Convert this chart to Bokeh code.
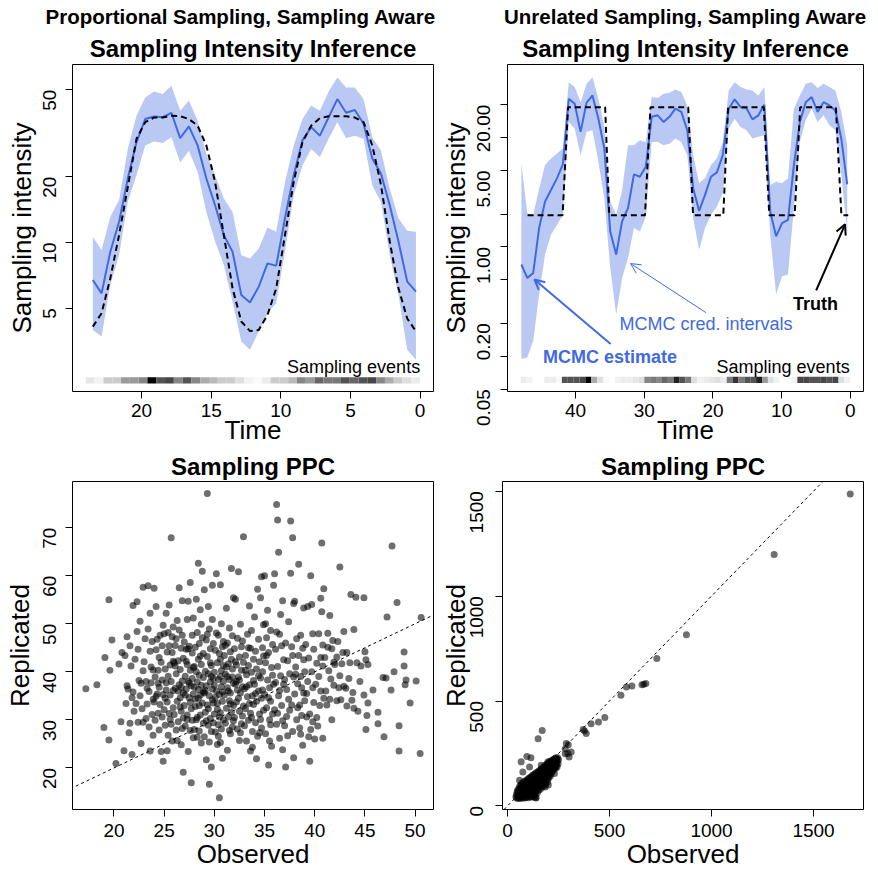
import math
import numpy as np
from bokeh.plotting import figure
from bokeh.layouts import column, row
from bokeh.models import Range1d, FixedTicker, Title, Arrow, OpenHead, Label, Slope
from bokeh.embed import file_html
from bokeh.resources import INLINE

FONT = "Liberation Sans"
BLUE = "#4169E1"

# ---------------- top-left: proportional sampling ----------------
tl_time = np.linspace(23.5, 0.3, 38)
tl_med = [6.73, 5.85, 9.07, 12.4, 19.6, 28.8, 36.7, 37.7, 37.4, 39.2, 30.0, 34.0, 27.8, 19.6, 14.8, 10.8, 9.07, 5.75, 5.31,
          6.28, 8.02, 7.83, 12.9, 20.3, 29.3, 33.7, 30.8, 37.4, 45.3, 39.2, 40.4, 34.9, 24.2, 20.6, 14.8, 10.1, 6.62, 5.96]
tl_hi = [10.6, 9.23, 13.1, 15.6, 26.8, 38.0, 46.1, 49.0, 47.8, 52.1, 40.1, 44.6, 36.1, 25.4, 20.3, 15.9, 13.8, 8.75, 8.45,
         9.39, 11.7, 11.2, 18.9, 27.8, 36.7, 42.3, 40.1, 49.0, 56.9, 51.2, 51.2, 45.3, 30.3, 26.3, 17.6, 12.9, 11.3, 11.2]
tl_lo = [3.98, 3.71, 6.38, 8.75, 15.3, 20.3, 27.8, 29.0, 28.5, 30.3, 23.2, 26.3, 21.0, 13.8, 10.1, 7.89, 5.36, 3.52, 3.23,
         3.91, 4.74, 5.27, 9.07, 16.4, 22.5, 26.8, 24.6, 29.8, 35.5, 30.0, 30.8, 29.8, 18.2, 15.3, 8.75, 5.75, 3.23, 2.91]
tl_truth = [4.12, 4.74, 6.85, 10.8, 17.9, 29.8, 35.5, 37.3, 37.3, 38.0, 37.8, 36.7, 34.2, 27.8, 18.9, 10.8, 6.17, 4.35, 3.93,
            3.98, 4.66, 6.17, 10.8, 18.9, 28.8, 34.2, 37.0, 37.8, 37.8, 37.8, 37.3, 35.5, 27.8, 18.3, 10.1, 6.17, 4.49, 3.92]
tl_events = [4, 2, 8, 8, 16, 16, 19, 40, 27, 29, 19, 27, 19, 13, 11, 8, 8, 5, 2, 1, 3, 8, 8, 11, 19, 16, 24, 21, 21, 27,
             24, 27, 29, 19, 13, 8, 5, 3]
tl_xticks = [0, 5, 10, 15, 20]
tl_yticks = [5, 10, 20, 50]
tl_ylabels = ["5", "10", "20", "50"]

# ---------------- top-right: unrelated sampling ----------------
tr_time = np.linspace(47.9, 0.45, 56)
tr_med = [0.69, 0.52, 0.578, 1.49, 2.60, 3.32, 4.24, 5.68, 22.7, 20.4, 11.3, 20.9, 24.3, 14.9, 7.96, 1.38, 0.85, 1.71,
          2.26, 4.61, 4.39, 5.41, 15.5, 16.0, 13.9, 15.5, 18.4, 17.2, 11.7, 3.43, 2.14, 2.99, 4.39, 4.81, 6.91, 18.4,
          22.4, 19.0, 18.6, 14.7, 16.0, 20.0, 2.11, 1.25, 1.65, 1.77, 5.61, 13.9, 21.1, 23.5, 17.2, 21.1, 19.7, 17.7,
          9.80, 3.73]
tr_hi = [5.80, 2.03, 1.96, 3.43, 5.61, 6.45, 7.16, 7.96, 32.1, 29.0, 21.1, 31.1, 35.7, 22.7, 12.5, 2.60, 1.96, 3.32,
         8.52, 8.52, 9.46, 9.1, 23.5, 23.0, 25.2, 25.7, 27.6, 26.1, 19.7, 6.91, 3.82, 4.24, 5.61, 6.45, 9.1, 27.0,
         32.1, 29.0, 27.6, 27.0, 24.3, 29.0, 3.68, 3.95, 3.82, 4.24, 18.4, 24.3, 31.1, 32.1, 28.4, 31.1, 29.0, 27.0,
         17.2, 8.52]
tr_lo = [0.094, 0.097, 0.138, 0.367, 0.85, 1.29, 1.59, 1.96, 13.9, 12.1, 6.91, 11.3, 11.7, 6.01, 2.79, 0.64, 0.24, 0.52,
         0.79, 1.49, 1.38, 1.90, 9.14, 9.14, 8.52, 8.8, 9.8, 9.14, 6.91, 1.83, 0.94, 1.49, 1.96, 2.34, 3.10, 12.1,
         14.9, 12.5, 11.7, 9.8, 10.2, 10.5, 1.29, 0.367, 0.54, 0.56, 2.26, 9.14, 14.4, 18.4, 13.9, 16.0, 13.0, 11.7,
         4.54, 1.38]
tr_truth_t = [47.0, 41.9, 41.1, 35.7, 35.1, 29.9, 29.1, 23.6, 22.9, 18.5, 17.8, 12.6, 11.8, 8.1, 7.3, 2.1, 1.3, 0.3]
tr_truth_v = [1.95, 1.95, 19, 19, 1.95, 1.95, 19, 19, 1.95, 1.95, 19, 19, 1.95, 1.95, 19, 19, 1.95, 1.95]
tr_events = [3, 2, 0, 0, 3, 3, 1, 27, 27, 27, 29, 40, 13, 5, 1, 0, 2, 3, 3, 4, 5, 19, 21, 19, 24, 21, 35, 27, 21, 5,
             2, 3, 4, 5, 3, 21, 32, 21, 27, 27, 35, 16, 5, 2, 0, 0, 2, 29, 29, 27, 27, 29, 27, 29, 5, 2]
tr_xticks = [0, 10, 20, 30, 40]
tr_yticks = [0.05, 0.1, 0.2, 0.5, 1, 2, 5, 10, 20]
tr_ylabels = ["0.05", "", "0.20", "", "1.00", "", "5.00", "", "20.00"]

# ---------------- bottom-left: sampling PPC (observed, replicated) ----------------
bl_points = [
    (17.2, 36.5), (18.3, 37.3), (19.1, 43.0), (19.0, 28.4), (19.5, 25.8), (19.6, 40.3), (19.5, 55.0), (19.8, 46.6),
    (20.2, 20.9), (20.5, 41.6), (20.7, 29.6), (20.8, 44.0), (21.0, 23.6), (21.1, 43.4), (21.3, 37.1), (21.3, 47.3),
    (21.4, 36.4), (21.5, 27.3), (21.6, 29.3), (21.7, 41.2), (21.8, 34.6), (21.8, 22.8), (21.9, 35.8), (21.9, 53.8),
    (21.6, 45.4), (21.2, 33.4),
    (22.0, 31.8), (22.1, 42.6), (22.2, 33.4), (22.3, 48.4), (22.3, 54.6), (22.4, 29.5), (22.5, 38.2), (22.6, 50.5),
    (22.7, 25.1), (22.7, 37.6), (22.8, 32.3), (22.9, 29.5), (22.9, 40.2), (22.4, 44.7), (22.6, 35.0), (22.9, 57.6),
    (23.0, 42.1), (23.1, 46.9), (23.2, 38.0), (23.2, 30.3), (23.3, 33.3), (23.4, 57.9), (23.4, 48.9), (23.5, 35.9),
    (23.5, 28.5), (23.6, 23.5), (23.6, 44.3), (23.7, 41.0), (23.7, 37.7), (23.8, 31.1), (23.8, 46.3), (23.9, 26.8),
    (23.9, 40.4), (23.3, 36.6), (23.6, 52.2), (23.9, 34.3),
    (24.0, 57.4), (24.0, 33.7), (24.1, 38.9), (24.1, 29.9), (24.2, 44.6), (24.2, 53.6), (24.3, 35.4), (24.3, 46.8),
    (24.4, 31.4), (24.4, 40.3), (24.5, 27.9), (24.5, 36.8), (24.6, 47.6), (24.6, 33.2), (24.7, 42.0), (24.7, 23.4),
    (24.8, 38.3), (24.8, 30.6), (24.9, 49.7), (24.9, 35.3), (24.9, 21.4), (24.2, 34.9), (24.5, 43.0), (24.8, 45.4),
    (24.4, 37.6),
    (25.0, 32.1), (25.0, 47.9), (25.1, 40.6), (25.1, 28.9), (25.2, 52.2), (25.2, 36.2), (25.3, 44.1), (25.3, 23.6),
    (25.3, 33.7), (25.4, 48.2), (25.4, 39.1), (25.5, 31.3), (25.5, 45.4), (25.5, 53.9), (25.6, 35.2), (25.6, 41.4),
    (25.7, 67.9), (25.7, 29.1), (25.7, 38.0), (25.8, 44.0), (25.8, 47.3), (25.8, 25.6), (25.9, 36.1), (25.9, 32.5),
    (25.9, 42.2), (25.2, 37.7), (25.6, 30.1), (25.4, 26.8), (25.1, 34.5), (25.9, 49.3),
    (26.0, 41.9), (26.0, 31.1), (26.1, 36.6), (26.1, 45.5), (26.2, 27.9), (26.2, 39.6), (26.3, 33.9), (26.3, 50.7),
    (26.4, 42.3), (26.4, 29.6), (26.5, 37.3), (26.5, 57.5), (26.5, 48.7), (26.6, 34.6), (26.6, 40.5), (26.7, 44.9),
    (26.7, 24.8), (26.7, 31.8), (26.8, 54.8), (26.8, 38.1), (26.8, 28.2), (26.9, 42.8), (26.9, 35.6), (26.9, 19.1),
    (26.2, 46.9), (26.4, 36.0), (26.6, 32.7), (26.8, 47.6), (26.3, 25.7), (26.9, 30.4), (26.1, 41.2), (26.7, 36.8),
    (27.0, 46.2), (27.0, 33.0), (27.1, 39.1), (27.1, 28.7), (27.2, 44.7), (27.2, 36.4), (27.3, 50.9), (27.3, 31.0),
    (27.3, 41.5), (27.4, 54.7), (27.4, 38.0), (27.4, 23.4), (27.5, 34.6), (27.5, 45.3), (27.6, 27.8), (27.6, 40.3),
    (27.6, 58.6), (27.7, 32.3), (27.7, 37.1), (27.7, 16.9), (27.8, 43.9), (27.8, 29.9), (27.8, 47.6), (27.9, 35.4),
    (27.9, 40.9), (27.9, 26.3), (27.2, 42.2), (27.5, 37.6), (27.1, 35.2), (27.6, 33.6), (27.9, 51.2), (27.3, 30.1),
    (27.8, 38.6), (27.4, 44.8),
    (28.0, 36.8), (28.0, 28.0), (28.1, 45.1), (28.1, 32.8), (28.2, 40.0), (28.2, 55.1), (28.3, 37.9), (28.3, 30.5),
    (28.3, 48.2), (28.4, 34.5), (28.4, 42.6), (28.4, 62.6), (28.5, 27.7), (28.5, 39.3), (28.5, 45.9), (28.6, 35.1),
    (28.6, 31.0), (28.6, 52.9), (28.7, 41.5), (28.7, 25.2), (28.7, 37.2), (28.8, 47.1), (28.8, 33.5), (28.8, 60.9),
    (28.9, 43.8), (28.9, 29.3), (28.9, 38.8), (28.1, 34.3), (28.4, 36.3), (28.6, 43.3), (28.2, 30.0), (28.9, 35.8),
    (28.3, 26.4), (28.7, 49.9), (28.5, 33.0), (28.0, 41.1),
    (29.0, 57.1), (29.0, 35.6), (29.0, 26.5), (29.1, 40.1), (29.1, 31.6), (29.2, 46.6), (29.2, 37.1), (29.2, 21.7),
    (29.3, 77.1), (29.3, 33.1), (29.3, 43.2), (29.4, 28.9), (29.4, 53.6), (29.4, 39.6), (29.5, 35.0), (29.5, 48.9),
    (29.5, 16.6), (29.6, 30.3), (29.6, 44.8), (29.6, 37.9), (29.7, 27.6), (29.7, 41.3), (29.7, 20.2), (29.8, 34.2),
    (29.8, 50.9), (29.8, 58.0), (29.9, 29.4), (29.9, 38.6), (29.9, 45.9), (29.1, 36.1), (29.4, 32.3), (29.6, 41.9),
    (29.8, 36.4), (29.2, 29.8), (29.5, 25.4), (29.9, 33.5), (29.3, 47.8), (29.7, 39.0),
    (30.0, 39.9), (30.0, 31.2), (30.1, 44.5), (30.1, 27.5), (30.2, 36.0), (30.2, 60.4), (30.3, 41.9), (30.3, 33.4),
    (30.3, 24.9), (30.4, 47.6), (30.4, 38.4), (30.4, 29.0), (30.5, 13.8), (30.5, 35.3), (30.5, 43.8), (30.6, 31.5),
    (30.6, 58.1), (30.6, 39.0), (30.7, 50.0), (30.7, 28.1), (30.7, 36.9), (30.8, 45.2), (30.8, 33.9), (30.8, 22.0),
    (30.9, 41.3), (30.9, 30.0), (30.9, 38.0), (30.1, 34.7), (30.2, 48.1), (30.4, 26.6), (30.6, 42.6), (30.8, 35.8),
    (30.3, 32.2), (30.7, 40.2), (30.5, 30.6), (30.9, 46.3), (30.0, 37.2), (30.6, 25.3),
    (31.0, 35.2), (31.0, 43.4), (31.1, 29.3), (31.1, 39.5), (31.2, 53.2), (31.2, 32.4), (31.3, 46.0), (31.3, 36.7),
    (31.3, 23.7), (31.4, 41.7), (31.4, 30.6), (31.5, 34.0), (31.5, 49.1), (31.5, 38.4), (31.6, 27.1), (31.6, 44.2),
    (31.6, 35.6), (31.7, 61.5), (31.7, 31.6), (31.8, 40.6), (31.8, 47.5), (31.8, 28.5), (31.9, 37.6), (31.9, 33.0),
    (31.9, 55.4), (31.2, 41.0), (31.4, 36.0), (31.6, 33.3), (31.8, 38.9), (31.1, 45.5), (31.5, 27.8), (31.7, 42.6),
    (31.9, 29.8), (31.3, 39.0),
    (32.0, 44.8), (32.0, 30.5), (32.1, 37.4), (32.1, 55.1), (32.2, 33.7), (32.2, 41.4), (32.3, 28.1), (32.3, 47.0),
    (32.4, 38.9), (32.4, 60.8), (32.5, 31.8), (32.5, 25.7), (32.5, 43.1), (32.6, 35.6), (32.6, 49.9), (32.7, 40.3),
    (32.7, 29.2), (32.8, 36.9), (32.8, 46.4), (32.9, 32.9), (32.9, 42.0), (32.9, 68.1), (32.2, 38.0), (32.4, 34.5),
    (32.6, 27.3), (32.8, 30.8), (32.1, 42.1), (32.3, 36.2), (32.7, 45.2), (32.5, 38.3),
    (33.0, 36.5), (33.0, 28.8), (33.1, 43.4), (33.1, 32.3), (33.2, 39.4), (33.2, 25.6), (33.3, 47.8), (33.3, 34.8),
    (33.4, 41.3), (33.4, 29.9), (33.5, 53.7), (33.5, 37.3), (33.6, 44.9), (33.6, 23.5), (33.6, 31.4), (33.7, 39.9),
    (33.7, 48.6), (33.8, 35.0), (33.8, 27.6), (33.9, 42.6), (33.9, 33.2), (33.2, 36.9), (33.4, 45.0), (33.7, 30.5),
    (33.9, 38.2), (33.1, 40.3), (33.5, 33.4), (33.8, 24.3),
    (34.0, 37.4), (34.0, 51.4), (34.1, 29.4), (34.1, 44.3), (34.2, 33.9), (34.2, 40.6), (34.3, 57.2), (34.3, 26.6),
    (34.4, 36.0), (34.4, 46.8), (34.5, 31.2), (34.5, 42.1), (34.6, 38.7), (34.6, 55.4), (34.7, 28.3), (34.7, 59.8),
    (34.7, 34.5), (34.8, 45.0), (34.8, 40.0), (34.9, 32.0), (34.9, 49.8), (34.2, 21.9), (34.4, 39.2), (34.6, 30.1),
    (34.8, 36.2), (34.1, 35.5), (34.5, 27.3), (34.9, 43.3),
    (35.0, 60.0), (35.0, 35.3), (35.1, 41.9), (35.1, 27.1), (35.2, 47.1), (35.2, 32.5), (35.3, 38.3), (35.3, 52.8),
    (35.4, 20.6), (35.4, 44.0), (35.5, 30.0), (35.5, 36.7), (35.6, 48.6), (35.6, 33.9), (35.7, 24.5), (35.7, 40.9),
    (35.8, 45.7), (35.8, 31.2), (35.9, 58.0), (35.9, 37.4), (35.2, 43.4), (35.4, 34.6), (35.6, 29.0), (35.8, 39.3),
    (35.1, 50.0), (35.5, 25.6),
    (36.0, 60.4), (36.0, 32.1), (36.1, 44.7), (36.1, 37.8), (36.2, 74.8), (36.2, 29.1), (36.3, 71.6), (36.3, 41.1),
    (36.4, 64.9), (36.4, 35.0), (36.5, 47.8), (36.5, 26.2), (36.6, 39.2), (36.6, 51.9), (36.7, 33.0), (36.7, 45.4),
    (36.8, 54.8), (36.8, 29.8), (36.9, 37.4), (36.9, 42.5), (36.2, 48.3), (36.5, 36.1), (36.8, 23.8), (36.3, 31.4),
    (37.0, 38.4), (37.1, 20.2), (37.1, 46.0), (37.2, 30.7), (37.3, 42.3), (37.3, 26.7), (37.4, 50.4), (37.4, 34.3),
    (37.5, 39.6), (37.6, 60.5), (37.6, 71.4), (37.7, 33.1), (37.7, 45.2), (37.8, 67.9), (37.8, 27.6), (37.9, 54.2),
    (37.9, 22.1), (37.9, 38.9), (37.2, 36.3), (37.5, 32.0), (37.8, 43.4), (37.0, 28.8),
    (38.0, 54.7), (38.0, 35.4), (38.1, 41.0), (38.2, 30.0), (38.2, 46.9), (38.3, 37.5), (38.4, 62.4), (38.4, 43.4),
    (38.5, 28.3), (38.5, 33.1), (38.6, 47.6), (38.6, 39.0), (38.7, 36.7), (38.7, 30.9), (38.8, 44.9), (38.8, 24.7),
    (38.9, 42.5), (38.9, 53.3), (38.3, 32.5), (38.6, 27.0), (38.9, 35.6), (38.1, 39.5),
    (39.0, 40.0), (39.0, 34.0), (39.1, 45.7), (39.2, 30.6), (39.3, 53.6), (39.3, 38.0), (39.4, 42.9), (39.5, 21.4),
    (39.5, 31.2), (39.6, 28.0), (39.6, 60.0), (39.7, 40.0), (39.7, 54.0), (39.8, 47.9), (39.8, 36.7), (39.9, 44.7),
    (39.9, 33.6), (39.2, 35.5), (39.4, 26.5), (39.8, 29.6),
    (40.0, 26.0), (40.1, 37.4), (40.2, 41.8), (40.3, 28.7), (40.4, 47.9), (40.5, 33.0), (40.6, 55.3), (40.6, 36.0),
    (40.7, 66.8), (40.7, 52.5), (40.8, 45.6), (40.8, 26.2), (40.9, 57.3), (40.9, 34.5), (40.4, 39.0), (40.8, 41.2),
    (40.2, 30.5), (40.6, 43.0),
    (41.0, 43.0), (41.1, 36.0), (41.2, 33.1), (41.3, 45.1), (41.4, 40.2), (41.5, 51.7), (41.5, 34.3), (41.6, 38.5),
    (41.7, 44.8), (41.8, 46.5), (41.9, 37.2), (41.7, 30.0), (41.3, 48.0), (41.9, 42.0),
    (42.0, 41.5), (42.2, 34.0), (42.3, 46.3), (42.5, 61.8), (42.5, 39.2), (42.6, 34.2), (42.7, 41.7), (42.8, 44.0),
    (42.9, 48.4), (42.4, 36.7), (42.9, 37.0), (42.2, 43.1),
    (43.1, 36.6), (43.2, 32.9), (43.4, 38.6), (43.6, 56.1), (43.8, 35.7), (43.9, 32.4), (43.9, 48.8), (43.5, 41.9),
    (43.7, 34.1), (43.2, 44.0),
    (44.1, 55.5), (44.2, 41.9), (44.3, 31.8), (44.6, 41.2), (44.9, 55.4), (44.9, 35.2), (45.0, 44.2), (45.1, 42.5),
    (45.2, 30.9), (45.3, 41.5), (45.3, 33.5), (45.1, 28.0), (45.8, 36.2), (44.5, 38.0),
    (46.3, 31.6), (46.3, 29.2), (46.9, 26.5), (47.1, 38.7), (47.2, 51.4), (46.8, 38.8), (47.6, 36.2), (47.7, 66.2),
    (47.9, 40.0), (48.2, 54.4), (48.4, 28.8), (48.4, 23.5), (48.9, 44.1), (48.9, 41.2), (49.0, 37.3), (49.1, 38.3),
    (49.5, 33.5), (50.1, 38.1), (50.5, 23.0), (50.6, 51.3),
]
bl_xticks = [20, 25, 30, 35, 40, 45, 50]
bl_yticks = [20, 30, 40, 50, 60, 70]

# ---------------- bottom-right: sampling PPC (observed, replicated) ----------------
br_points = [
    (41, 42), (44, 55), (46, 38), (47, 66), (49, 48), (50, 76), (52, 36), (53, 59), (54, 45), (55, 70), (56, 83),
    (57, 40), (58, 52), (59, 64), (60, 95), (61, 37), (62, 47), (63, 58), (64, 72), (65, 86), (66, 100), (67, 41),
    (68, 53), (69, 64), (70, 77), (70, 108), (72, 37), (73, 49), (74, 61), (75, 88), (76, 74), (77, 99), (78, 112),
    (79, 43), (80, 56), (81, 68), (82, 80), (83, 92), (84, 118), (85, 38), (86, 105), (87, 50), (88, 63), (89, 76),
    (90, 88), (91, 121), (92, 40), (93, 100), (94, 55), (95, 70), (96, 112), (97, 84), (98, 45), (99, 126), (100, 60),
    (101, 96), (102, 74), (103, 131), (104, 39), (105, 108), (106, 50), (107, 87), (108, 120), (109, 65), (110, 135),
    (111, 98), (112, 44), (113, 78), (114, 112), (115, 56), (116, 139), (117, 89), (118, 125), (119, 68), (120, 101),
    (121, 42), (122, 145), (123, 114), (124, 80), (125, 54), (126, 130), (127, 93), (128, 148), (129, 67), (130, 108),
    (131, 121), (132, 47), (133, 152), (134, 84), (135, 136), (136, 60), (137, 98), (138, 115), (139, 38), (140, 158),
    (141, 73), (142, 127), (143, 90), (144, 143), (145, 106), (146, 62), (147, 160), (148, 120), (149, 85), (150, 137),
    (151, 100), (152, 74), (153, 165), (154, 150), (155, 114), (156, 88), (157, 128), (158, 170), (159, 142),
    (160, 104), (161, 80), (162, 157), (163, 120), (164, 174), (165, 135), (166, 96), (167, 150), (168, 112),
    (169, 178), (170, 165), (171, 128), (172, 90), (173, 143), (174, 183), (175, 158), (176, 106), (177, 172),
    (178, 122), (179, 188), (180, 138), (181, 97), (182, 154), (183, 178), (184, 118), (185, 192), (186, 168),
    (187, 134), (188, 105), (189, 150), (190, 196), (191, 180), (192, 124), (193, 164), (194, 200), (195, 140),
    (196, 186), (197, 115), (198, 172), (199, 155), (200, 203), (201, 132), (202, 190), (203, 168), (204, 145),
    (205, 208), (206, 178), (207, 158), (208, 195), (209, 140), (210, 212), (211, 170), (212, 186), (213, 152),
    (214, 200), (215, 176), (216, 216), (217, 162), (218, 192), (219, 205), (220, 180), (221, 168), (222, 218),
    (223, 196), (224, 184), (225, 210), (226, 172), (227, 222), (228, 198), (229, 186), (230, 214), (231, 178),
    (232, 226), (233, 204), (234, 190), (236, 218), (237, 182), (238, 230), (239, 208), (240, 196), (242, 222),
    (243, 186), (244, 212), (246, 230), (248, 200), (250, 220),
    (59, 122), (67, 210), (75, 162), (95, 235), (108, 186), (115, 230), (132, 43), (150, 320), (165, 194), (170, 360),
    (198, 210), (230, 154), (185, 90), (200, 100), (140, 40),
    (283, 249), (288, 297), (296, 250), (302, 233), (312, 257), (283, 273), (298, 292), (371, 364), (386, 345),
    (378, 357), (410, 392), (446, 400), (477, 421), (556, 527), (583, 567), (610, 571), (659, 578), (668, 580),
    (678, 583), (732, 702), (877, 816), (1307, 1198), (1680, 1487),
]
br_xticks = [0, 500, 1000, 1500]
br_yticks = [0, 500, 1000, 1500]


def gray(c, cmax=40.0):
    g = int(round(255 * (1 - c / cmax)))
    return "#%02x%02x%02x" % (g, g, g)


def base_fig(w, h, xr, yr, ylog, bl, br, bt, bb, xstand, ystand, xlab_stand, ylab_stand, xlab, ylab):
    p = figure(width=w, height=h, x_range=xr, y_range=yr, y_axis_type="log" if ylog else "linear",
               output_backend="svg", toolbar_location=None, title=None,
               min_border_left=bl, min_border_right=br, min_border_top=bt, min_border_bottom=bb)
    p.grid.visible = False
    p.outline_line_color = "black"
    p.outline_line_alpha = 1.0
    p.outline_line_width = 1
    p.background_fill_color = "white"
    p.border_fill_color = "white"
    for ax in (p.xaxis[0], p.yaxis[0]):
        ax.axis_line_color = None
        ax.major_tick_in = 0
        ax.major_tick_out = 7
        ax.major_tick_line_color = "black"
        ax.minor_tick_line_color = None
        ax.major_label_text_font = FONT
        ax.major_label_text_font_size = "19px"
        ax.major_label_text_color = "black"
        ax.axis_label_text_font = FONT
        ax.axis_label_text_font_size = "26px"
        ax.axis_label_text_font_style = "normal"
        ax.axis_label_text_color = "black"
    p.xaxis.major_label_standoff = xstand
    p.yaxis.major_label_standoff = ystand
    p.xaxis.axis_label_standoff = xlab_stand
    p.yaxis.axis_label_standoff = ylab_stand
    p.yaxis.major_label_orientation = math.pi / 2
    p.xaxis.axis_label = xlab
    p.yaxis.axis_label = ylab
    return p


def add_titles(p, main, main_standoff, outer=None, outer_standoff=5, outer_align="center", outer_offset=0):
    p.add_layout(Title(text=main, align="center", text_font=FONT, text_font_size="24px",
                       text_font_style="bold", text_color="black", standoff=main_standoff), "above")
    if outer:
        p.add_layout(Title(text=outer, align=outer_align, offset=outer_offset, text_font=FONT,
                           text_font_size="20.5px", text_font_style="bold", text_color="black",
                           standoff=outer_standoff), "above")


def intensity_panel(p, t, lo, hi, med, truth_t, truth_v, events, t_span, strip_b, strip_t):
    p.varea(x=t, y1=lo, y2=hi, fill_color=BLUE, fill_alpha=0.36)
    p.line(x=t, y=med, line_color=BLUE, line_width=2)
    p.line(x=truth_t, y=truth_v, line_color="black", line_width=2, line_dash="6 4")
    n = len(events)
    w = t_span / n
    centers = [t_span - (i + 0.5) * w for i in range(n)]
    p.quad(left=[c - w / 2 for c in centers], right=[c + w / 2 for c in centers],
           bottom=strip_b, top=strip_t, fill_color=[gray(c) for c in events], line_color=None)


# ---------- top-left ----------
p1 = base_fig(437, 447, Range1d(24.96, -0.96), Range1d(2.08, 65.2), True, 72, 4, 62, 56,
              5, 16, -5, -3, "Time", "Sampling intensity")
intensity_panel(p1, tl_time, tl_lo, tl_hi, tl_med, tl_time, tl_truth, tl_events, 24.0, 2.262, 2.416)
p1.add_layout(Label(x=0.0, y=2.68, text="Sampling events", text_align="right", text_baseline="middle",
                    text_font=FONT, text_font_size="18px", text_color="black"))
p1.xaxis.ticker = FixedTicker(ticks=tl_xticks)
p1.yaxis.ticker = FixedTicker(ticks=tl_yticks)
p1.yaxis.major_label_overrides = dict(zip(tl_yticks, tl_ylabels))
add_titles(p1, "Sampling Intensity Inference", 5, outer="Proportional Sampling, Sampling Aware",
           outer_standoff=5, outer_align="left", outer_offset=-27)

# ---------- top-right ----------
p2 = base_fig(440, 447, Range1d(49.92, -1.92), Range1d(0.0475, 46.7), True, 64, 14, 62, 56,
              5, 17, -5, -3, "Time", "Sampling intensity")
intensity_panel(p2, tr_time, tr_lo, tr_hi, tr_med, tr_truth_t, tr_truth_v, tr_events, 48.0, 0.0568, 0.0649)
p2.add_layout(Label(x=0.1, y=0.080, text="Sampling events", text_align="right", text_baseline="middle",
                    text_font=FONT, text_font_size="18px", text_color="black"))
p2.add_layout(Label(x=35.0, y=0.0986, text="MCMC estimate", text_align="center", text_baseline="middle",
                    text_font=FONT, text_font_size="18px", text_font_style="bold", text_color=BLUE))
p2.add_layout(Label(x=21.0, y=0.198, text="MCMC cred. intervals", text_align="center", text_baseline="middle",
                    text_font=FONT, text_font_size="18px", text_color=BLUE))
p2.add_layout(Label(x=5.07, y=0.298, text="Truth", text_align="center", text_baseline="middle",
                    text_font=FONT, text_font_size="18px", text_font_style="bold", text_color="black"))
p2.add_layout(Arrow(end=OpenHead(size=10, line_color=BLUE, line_width=2), x_start=34.9, y_start=0.129,
                    x_end=46.0, y_end=0.503, line_color=BLUE, line_width=2))
p2.add_layout(Arrow(end=OpenHead(size=10, line_color=BLUE, line_width=1), x_start=21.0, y_start=0.25,
                    x_end=32.0, y_end=0.704, line_color=BLUE, line_width=1))
p2.add_layout(Arrow(end=OpenHead(size=10, line_color="black", line_width=2), x_start=4.97, y_start=0.40,
                    x_end=0.76, y_end=1.61, line_color="black", line_width=2))
p2.xaxis.ticker = FixedTicker(ticks=tr_xticks)
p2.yaxis.ticker = FixedTicker(ticks=tr_yticks)
p2.yaxis.major_label_overrides = dict(zip(tr_yticks, tr_ylabels))
add_titles(p2, "Sampling Intensity Inference", 5, outer="Unrelated Sampling, Sampling Aware", outer_standoff=5)


def ppc_panel(p, pts):
    xs = [a for a, b in pts]
    ys = [b for a, b in pts]
    p.scatter(x=xs, y=ys, marker="circle", size=7, fill_color="black", fill_alpha=0.57, line_color=None)
    p.add_layout(Slope(gradient=1, y_intercept=0, line_color="black", line_width=1, line_dash="3 3"))
    add_titles(p, "Sampling PPC", 3)


# ---------- bottom-left ----------
p3 = base_fig(437, 425, Range1d(15.87, 51.83), Range1d(11.35, 79.6), False, 72, 4, 34, 63,
              7, 16, -1, -1, "Observed", "Replicated")
ppc_panel(p3, bl_points)
p3.xaxis.ticker = FixedTicker(ticks=bl_xticks)
p3.yaxis.ticker = FixedTicker(ticks=bl_yticks)

# ---------- bottom-right ----------
p4 = base_fig(440, 425, Range1d(-24.5, 1745), Range1d(-17, 1546), False, 64, 14, 34, 63,
              7, 19, -1, -10, "Observed", "Replicated")
ppc_panel(p4, br_points)
p4.xaxis.ticker = FixedTicker(ticks=br_xticks)
p4.yaxis.ticker = FixedTicker(ticks=br_yticks)

layout = column(row(p1, p2), row(p3, p4))
open("out.html", "w").write(file_html(layout, INLINE))
